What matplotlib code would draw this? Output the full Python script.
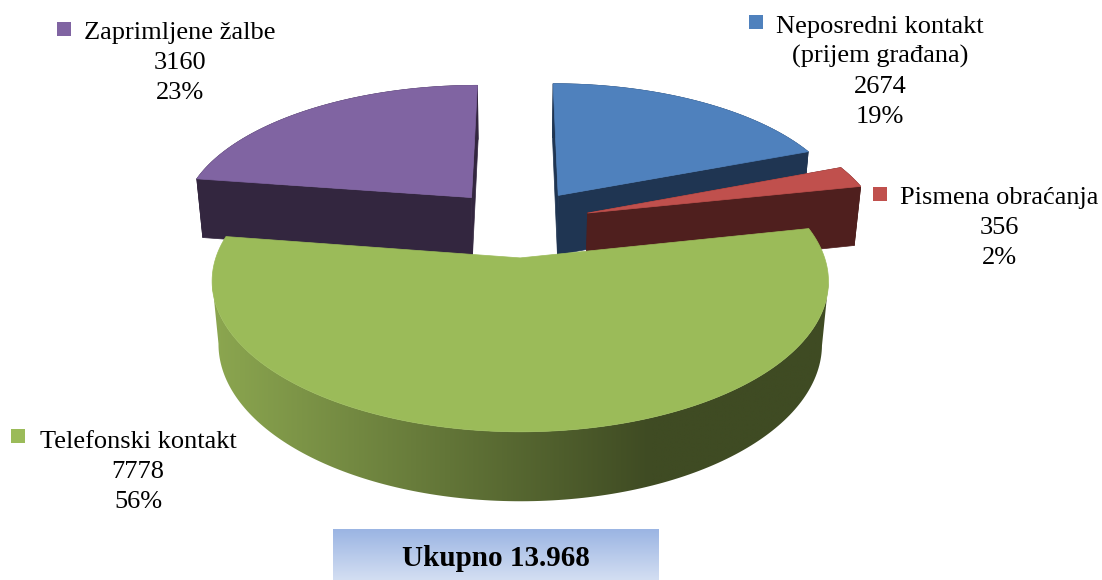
import numpy as np
import matplotlib
matplotlib.use("Agg")
import matplotlib.pyplot as plt
from matplotlib.colors import LinearSegmentedColormap
from matplotlib.patches import Polygon, Rectangle

plt.rcParams['font.family'] = ['Liberation Serif', 'DejaVu Serif']

# data
categories = ["Neposredni kontakt\n(prijem građana)", "Pismena obraćanja", "Telefonski kontakt", "Zaprimljene žalbe"]
values = [2674, 356, 7778, 3160]
percents = ["19%", "2%", "56%", "23%"]
total_label = "Ukupno 13.968"

top_colors = ["#4F81BD", "#C0504D", "#9BBB59", "#8064A2"]
side_colors = ["#1F3552", "#4F1F1E", "#3F4B23", "#33263F"]

# perspective of the pie, pixels of the figure
CX, CY = 518, 222.6
SCALE_X, SCALE_Y = 293, 136
TILT = 0.15
DEPTH_Y, DEPTH_W = 62, 0.02
EXPLODE = 0.25


def project(u, v, z=0.0):
    w = 1 + TILT * v + DEPTH_W * z
    return CX + SCALE_X * u / w, CY + (-SCALE_Y * v + DEPTH_Y * z) / w


def wedge_points(a0, a1, z=0.0):
    """apex and rim of one exploded slice, angles clockwise from north"""
    mid = (a0 + a1) / 2
    du, dv = EXPLODE * np.sin(mid), EXPLODE * np.cos(mid)
    t = np.linspace(a0, a1, 200)
    rim_x, rim_y = project(du + np.sin(t), dv + np.cos(t), z)
    apex_x, apex_y = project(du, dv, z)
    return (apex_x, apex_y), np.column_stack([rim_x, rim_y])


fig = plt.figure(figsize=(11.02, 5.80), dpi=100)
ax = fig.add_axes([0, 0, 1, 1])
ax.set_xlim(0, 1102)
ax.set_ylim(580, 0)
ax.axis("off")

edges = np.concatenate([[0], np.cumsum(values)]) / np.sum(values) * 2 * np.pi

# back to front: purple, blue, red, green
for i, zorder in zip([3, 0, 1, 2], [2, 4, 6, 8]):
    a0, a1 = edges[i], edges[i + 1]
    apex, rim = wedge_points(a0, a1)
    apex_b, rim_b = wedge_points(a0, a1, z=1.0)

    if i == 2:
        # front wall of the big slice has a horizontal gradient, only between the silhouette points
        first, last = np.argmax(rim[:, 0]), np.argmin(rim[:, 0])
        wall = np.vstack([rim[first:last + 1], rim_b[first:last + 1][::-1]])
        cmap = LinearSegmentedColormap.from_list("wall", [(0, "#8CA750"), (0.71, "#3F4B23"), (1, "#3F4B23")])
        grad = ax.imshow(np.linspace(0, 1, 256).reshape(1, -1), cmap=cmap, aspect="auto",
                         extent=[210, 830, 510, 220], zorder=zorder, interpolation="bilinear")
        grad.set_clip_path(Polygon(wall, transform=ax.transData))
    else:
        for end, end_b in [(rim[0], rim_b[0]), (rim[-1], rim_b[-1])]:
            ax.add_patch(Polygon([apex, end, end_b, apex_b], facecolor=side_colors[i],
                                 edgecolor=side_colors[i], lw=0.5, zorder=zorder))
        ax.add_patch(Polygon(np.vstack([rim, rim_b[::-1]]), facecolor=side_colors[i],
                             edgecolor=side_colors[i], lw=0.5, zorder=zorder))

    ax.add_patch(Polygon(np.vstack([[apex], rim]), facecolor=top_colors[i],
                         edgecolor=top_colors[i], lw=0.5, zorder=zorder + 1))

ax.set_xlim(0, 1102)
ax.set_ylim(580, 0)

# data labels: key square, name, value, percent
label_pos = [(880, 26.5), (999, 198), (138, 442), (180, 32.5)]
key_pos = [(756, 22), (880, 194), (18, 436), (64, 29)]
for i in range(4):
    ax.add_patch(Rectangle((key_pos[i][0] - 7, key_pos[i][1] - 7), 14, 14,
                           facecolor=top_colors[i], edgecolor="none", zorder=12))
    name_lines = categories[i].split("\n")
    lines = name_lines + [str(values[i]), percents[i]]
    for n, line in enumerate(lines):
        ax.text(label_pos[i][0], label_pos[i][1] + n * 30.2, line, fontsize=19, color="black",
                ha="center", va="center", zorder=12)

# total box
box_cmap = LinearSegmentedColormap.from_list("box", ["#9BB5E3", "#D3DEF2"])
ax.imshow(np.linspace(0, 1, 64).reshape(-1, 1), cmap=box_cmap, aspect="auto",
          extent=[333, 659, 580, 529], zorder=10)
ax.set_xlim(0, 1102)
ax.set_ylim(580, 0)
ax.text(496, 559, total_label, fontsize=21, fontweight="bold", color="black",
        ha="center", va="center", zorder=12)

fig.savefig("out.png", dpi=100)
